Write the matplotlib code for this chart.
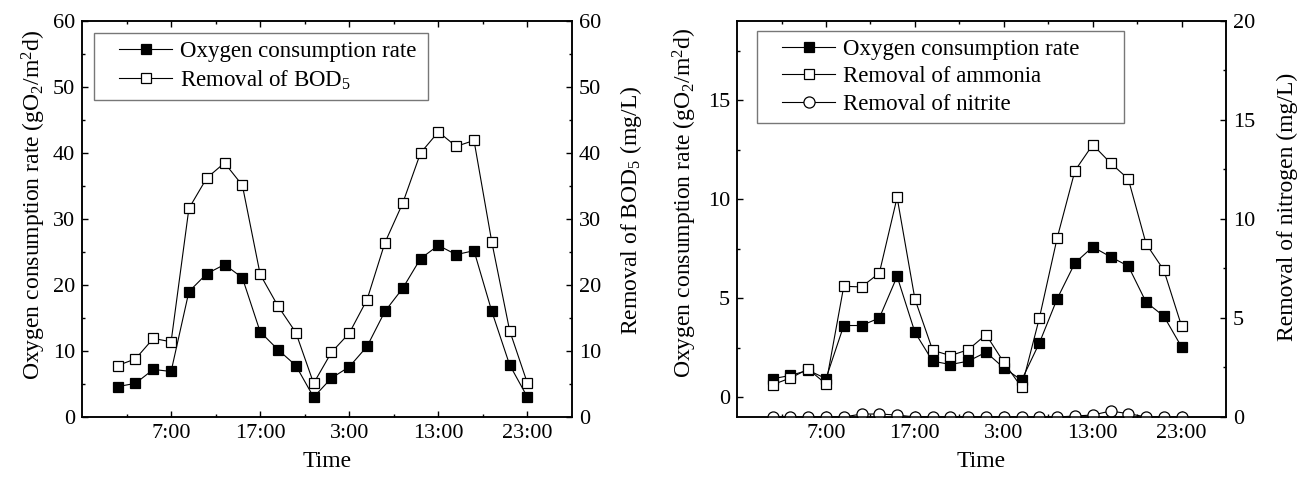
import matplotlib
matplotlib.use('Agg')
import matplotlib.pyplot as plt
from matplotlib.ticker import MultipleLocator, FixedLocator
from matplotlib.legend_handler import HandlerLine2D

plt.rcParams['font.family'] = ['Liberation Serif', 'DejaVu Serif']
plt.rcParams['mathtext.fontset'] = 'custom'
plt.rcParams['mathtext.rm'] = 'Liberation Serif'
plt.rcParams['mathtext.it'] = 'Liberation Serif:italic'
plt.rcParams['font.size'] = 16

# hours since start (1:00 of day 1 ... 23:00 of day 2), every 2 h
hours = [1, 3, 5, 7, 9, 11, 13, 15, 17, 19, 21, 23,
         25, 27, 29, 31, 33, 35, 37, 39, 41, 43, 45, 47]
tick_hours = [7, 17, 27, 37, 47]
tick_labels = ['7:00', '17:00', '3:00', '13:00', '23:00']

# left panel
oxy_a = [4.6, 5.1, 7.2, 6.9, 19.0, 21.7, 23.1, 21.1, 12.9, 10.2, 7.8, 3.0,
         5.9, 7.6, 10.7, 16.0, 19.5, 24.0, 26.0, 24.6, 25.2, 16.0, 7.9, 3.0]
bod = [7.8, 8.8, 11.9, 11.4, 31.6, 36.2, 38.5, 35.1, 21.6, 16.8, 12.8, 5.1,
       9.8, 12.7, 17.8, 26.4, 32.4, 40.0, 43.2, 41.0, 41.9, 26.5, 13.1, 5.1]

# right panel
oxy_b = [0.93, 1.1, 1.36, 0.94, 3.62, 3.62, 4.0, 6.1, 3.28, 1.82, 1.65, 1.82,
         2.27, 1.48, 0.86, 2.74, 4.97, 6.78, 7.59, 7.09, 6.62, 4.8, 4.09, 2.53]
ammonia = [1.63, 1.97, 2.42, 1.67, 6.6, 6.57, 7.27, 11.09, 5.96, 3.37, 3.1, 3.4,
           4.16, 2.76, 1.5, 5.0, 9.04, 12.44, 13.75, 12.83, 12.02, 8.75, 7.41, 4.58]
nitrite = [0, 0, 0, 0, 0, 0.15, 0.15, 0.1, 0, 0, 0, 0,
           0, 0, 0, 0, 0, 0.05, 0.1, 0.3, 0.17, 0, 0, 0]


class InsetLine(HandlerLine2D):
    # legend sample "—■—" pushed to the right end of the handle box
    def get_xdata(self, legend, xdescent, ydescent, width, height, fontsize):
        seg = 2.3 * fontsize
        x1 = -xdescent + width
        return [x1 - seg, x1], [x1 - seg / 2]


fig = plt.figure(figsize=(13.08, 4.88), dpi=100)
ax1 = fig.add_axes([0.0627, 0.1455, 0.3746, 0.8115])
ax2 = fig.add_axes([0.5635, 0.1455, 0.3739, 0.8115])


def style_x(ax):
    ax.set_xlim(-3, 52)
    ax.xaxis.set_major_locator(FixedLocator(tick_hours))
    ax.xaxis.set_minor_locator(FixedLocator([2, 12, 22, 32, 42]))
    ax.set_xticklabels(tick_labels)
    ax.set_xlabel('Time', fontsize=17, labelpad=6)


def style_ticks(ax):
    ax.tick_params(which='both', direction='in', top=True, width=1)
    ax.tick_params(which='major', length=4.5, pad=5)
    ax.tick_params(which='minor', length=2.5)
    for s in ax.spines.values():
        s.set_linewidth(1.1)


line_kw = dict(color='black', linewidth=0.8, markersize=7.5, markeredgewidth=0.9)
leg_kw = dict(loc='upper left', borderaxespad=0, fancybox=False, edgecolor='#555555',
              handlelength=3.05, numpoints=1, borderpad=0.35, labelspacing=0.28,
              handletextpad=0.35, fontsize=16.5, mode='expand')

# ---- left
ax1b = ax1.twinx()
l1, = ax1.plot(hours, oxy_a, marker='s', markerfacecolor='black',
               markeredgecolor='black', label='Oxygen consumption rate', **line_kw)
l2, = ax1b.plot(hours, bod, marker='s', markerfacecolor='white',
                markeredgecolor='black', label='Removal of BOD$_5$', **line_kw)
for a in (ax1, ax1b):
    a.set_ylim(0, 60)
    a.yaxis.set_major_locator(MultipleLocator(10))
    a.yaxis.set_minor_locator(MultipleLocator(5))
    style_ticks(a)
style_x(ax1)
ax1.set_ylabel('Oxygen consumption rate (gO$_2$/m$^2$d)', fontsize=17)
ax1.yaxis.set_label_coords(-0.070, 0.535)
ax1b.set_ylabel('Removal of BOD$_5$ (mg/L)', fontsize=17)
ax1b.yaxis.set_label_coords(1.094, 0.523)
h = InsetLine()
leg = ax1b.legend(handles=[l1, l2], bbox_to_anchor=(0.0245, 0.97, 0.6816, 0.0),
                  handler_map={l1: h, l2: h}, **leg_kw)
leg.get_frame().set_linewidth(1.0)

# ---- right
ax2b = ax2.twinx()
r1, = ax2.plot(hours, oxy_b, marker='s', markerfacecolor='black',
               markeredgecolor='black', label='Oxygen consumption rate', **line_kw)
r2, = ax2b.plot(hours, ammonia, marker='s', markerfacecolor='white',
                markeredgecolor='black', label='Removal of ammonia', **line_kw)
r3, = ax2b.plot(hours, nitrite, marker='o', markerfacecolor='white',
                markeredgecolor='black', label='Removal of nitrite',
                color='black', linewidth=0.8, markersize=8, markeredgewidth=0.9)
ax2.set_ylim(-1, 19)
ax2.yaxis.set_major_locator(FixedLocator([0, 5, 10, 15]))
ax2.yaxis.set_minor_locator(FixedLocator([2.5, 7.5, 12.5, 17.5]))
ax2b.set_ylim(0, 20)
ax2b.yaxis.set_major_locator(MultipleLocator(5))
ax2b.yaxis.set_minor_locator(MultipleLocator(2.5))
for a in (ax2, ax2b):
    style_ticks(a)
style_x(ax2)
ax2.set_ylabel('Oxygen consumption rate (gO$_2$/m$^2$d)', fontsize=17)
ax2.yaxis.set_label_coords(-0.078, 0.54)
ax2b.set_ylabel('Removal of nitrogen (mg/L)', fontsize=17)
ax2b.yaxis.set_label_coords(1.104, 0.53)
leg2 = ax2b.legend(handles=[r1, r2, r3], bbox_to_anchor=(0.041, 0.975, 0.7505, 0.0),
                   handler_map={r1: h, r2: h, r3: h}, **leg_kw)
leg2.get_frame().set_linewidth(1.0)

fig.savefig('out.png', dpi=100)
